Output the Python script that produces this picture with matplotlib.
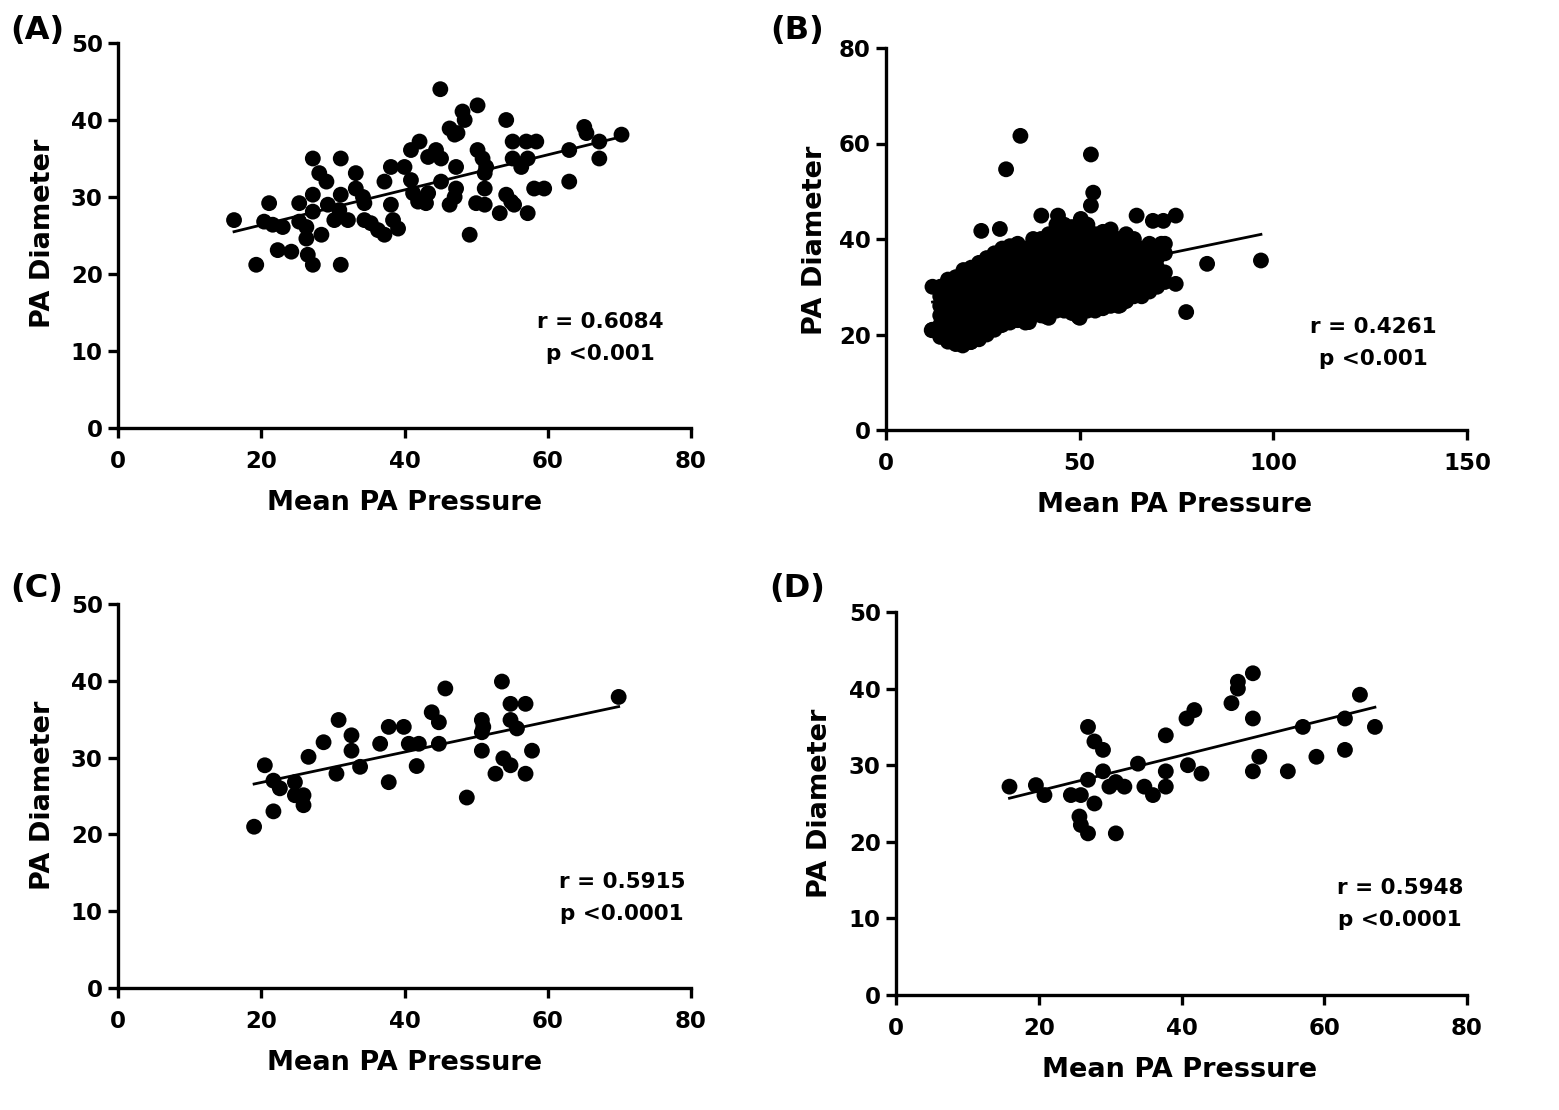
import numpy as np
import matplotlib
matplotlib.use("Agg")
import matplotlib.pyplot as plt

plt.rcParams['font.family'] = ['DejaVu Sans']
plt.rcParams['font.weight'] = 'bold'

# panel A - all patients
a_x = [16.2, 19.3, 21.1, 20.4, 21.6, 23.0, 22.3, 24.2, 25.3, 25.3, 26.3, 26.3, 26.5, 27.2, 28.4,
       27.2, 27.2, 28.1, 29.1, 27.2, 29.3, 30.2, 31.1, 31.1, 30.9, 32.1, 31.1, 33.2, 33.2, 34.2,
       34.4, 34.4, 35.3, 36.3, 37.2, 37.2, 38.1, 38.1, 38.4, 39.1, 40.0, 40.9, 42.1, 40.9, 41.2,
       41.9, 43.0, 43.3, 43.3, 45.0, 44.4, 45.1, 45.1, 46.3, 47.0, 47.4, 48.1, 48.4, 50.2, 47.2,
       47.2, 47.0, 46.3, 49.1, 50.0, 51.2, 50.2, 50.9, 51.4, 51.2, 51.2, 53.3, 54.2, 54.9, 55.3,
       57.2, 54.2, 55.1, 55.1, 56.3, 57.0, 58.4, 57.2, 58.1, 59.5, 63.0, 63.0, 65.1, 65.4, 67.2,
       67.2, 70.3]
a_y = [27.0, 21.2, 29.2, 26.8, 26.4, 26.1, 23.1, 22.9, 29.2, 26.8, 26.1, 24.6, 22.5, 21.2, 25.1,
       30.3, 35.0, 33.1, 32.0, 28.1, 29.0, 27.0, 35.0, 30.3, 28.3, 27.0, 21.2, 33.1, 31.1, 30.0,
       29.2, 27.0, 26.6, 25.7, 25.1, 32.0, 33.9, 29.0, 27.0, 25.9, 33.9, 36.1, 37.2, 32.2, 30.5,
       29.4, 29.2, 30.5, 35.2, 44.0, 36.1, 35.0, 32.0, 38.9, 38.1, 38.3, 41.1, 40.0, 41.9, 33.9,
       31.1, 30.0, 29.0, 25.1, 29.2, 29.0, 36.1, 35.0, 33.9, 33.1, 31.1, 27.9, 30.3, 29.4, 29.0,
       27.9, 40.0, 37.2, 35.0, 33.9, 37.2, 37.2, 35.0, 31.1, 31.1, 36.1, 32.0, 39.1, 38.3, 37.2,
       35.0, 38.1]

# panel B - dense cloud, read column by column, plus the scattered outer points
b_col_x = [12, 14, 16, 18, 20, 22, 24, 26, 28, 30, 32, 34, 36, 38, 40, 42,
           44, 46, 48, 50, 52, 54, 56, 58, 60, 62, 64, 66, 68, 70, 72]
b_col_y = [
    [21, 30],
    [19.5, 22, 24, 26, 28, 30],
    [18.5, 21, 23, 25, 27, 29, 31.5],
    [18, 20, 22, 24, 26, 28, 30, 32],
    [18, 19.5, 21.5, 23.5, 25.5, 27.5, 29.5, 31.5, 33.5],
    [18.5, 20.5, 22.5, 24.5, 26.5, 28.5, 30.5, 32.5, 34],
    [19, 21, 23, 25, 27, 29, 31, 33, 35],
    [20, 22, 24, 26, 28, 30, 32, 34, 36],
    [21, 23, 25, 27, 29, 31, 33, 35, 37],
    [22, 24, 26, 28, 30, 32, 34, 36, 38],
    [22.5, 24.5, 26.5, 28.5, 30.5, 32.5, 34.5, 36.5, 38.5],
    [23, 25, 27, 29, 31, 33, 35, 37, 39],
    [22.5, 24, 26, 28, 30, 32, 34, 36, 38],
    [24, 26, 28, 30, 32, 34, 36, 38, 40],
    [24, 26, 28, 30, 32, 34, 36, 38, 40],
    [23.5, 25.5, 27.5, 29.5, 31.5, 33.5, 35.5, 37.5, 39.5, 41],
    [25, 27, 29, 31, 33, 35, 37, 39, 41, 43],
    [25, 27, 29, 31, 33, 35, 37, 39, 41, 43],
    [24.5, 26.5, 28.5, 30.5, 32.5, 34.5, 36.5, 38.5, 40.5, 42.5],
    [23.5, 25.5, 27.5, 29.5, 31.5, 33.5, 35.5, 37.5, 39.5, 41.5],
    [25, 27, 29, 31, 33, 35, 37, 39, 41, 43],
    [25, 27, 29, 31, 33, 35, 37, 39, 41],
    [25.5, 27.5, 29.5, 31.5, 33.5, 35.5, 37.5, 39.5, 41.5],
    [26, 28, 30, 32, 34, 36, 38, 40, 42],
    [26, 28, 30, 32, 34, 36, 38, 40],
    [27, 29, 31, 33, 35, 37, 39, 41],
    [28, 30, 32, 34, 36, 38, 40],
    [28, 30, 32, 34, 36, 38],
    [29, 31, 33, 35, 37, 39],
    [30, 32, 34, 36, 38],
    [31, 33, 37, 39],
]
b_out_x = [34.7, 31.0, 52.9, 53.5, 52.9, 96.8, 82.9, 77.5, 74.8, 11.8, 24.6, 29.4, 40.1, 44.4, 50.3,
           64.7, 68.9, 71.6, 74.8, 71.1, 71.1, 65.8, 60.4, 49.7, 41.2, 36.9, 29.4, 19.8, 21.9]
b_out_y = [61.6, 54.6, 57.7, 49.7, 47.0, 35.5, 34.8, 24.7, 30.6, 20.9, 41.7, 42.1, 44.9, 44.9, 44.2,
           44.9, 43.8, 43.8, 44.9, 39.0, 36.9, 28.2, 26.1, 23.7, 23.8, 22.6, 21.9, 17.7, 18.4]

b_x = list(b_out_x)
b_y = list(b_out_y)
for cx, ys in zip(b_col_x, b_col_y):
    for yy in ys:
        b_x.append(cx)
        b_y.append(yy)

# panel C
c_x = [19.0, 20.5, 21.7, 21.7, 22.6, 24.7, 24.7, 25.9, 25.9, 26.6, 28.7, 30.8, 30.5, 32.6, 32.6,
       33.8, 36.6, 37.8, 37.8, 39.9, 40.6, 42.0, 41.7, 43.8, 44.8, 44.8, 45.7, 48.7, 50.8, 50.8,
       50.8, 52.7, 53.6, 54.8, 54.8, 55.7, 56.9, 53.8, 54.8, 56.9, 57.8, 69.9, 51.0]
c_y = [21.0, 29.0, 23.0, 27.0, 26.0, 26.8, 25.1, 25.1, 23.8, 30.1, 32.0, 34.9, 27.9, 32.9, 30.9,
       28.8, 31.8, 34.0, 26.8, 34.0, 31.8, 31.8, 28.9, 35.9, 34.6, 31.8, 39.0, 24.8, 34.9, 33.3,
       30.9, 27.9, 39.9, 37.0, 34.9, 33.8, 37.0, 29.9, 29.0, 27.9, 30.9, 37.9, 34.0]

# panel D
d_x = [15.9, 19.6, 20.8, 24.5, 25.9, 25.7, 25.9, 26.9, 26.9, 27.8, 29.0, 26.9, 27.8, 29.0, 29.9,
       30.8, 32.0, 30.8, 33.9, 34.8, 36.0, 37.8, 37.8, 37.8, 40.7, 41.8, 40.9, 42.8, 47.0, 47.9,
       47.9, 50.0, 50.0, 50.9, 50.0, 54.9, 57.0, 58.9, 62.9, 62.9, 65.0, 67.1]
d_y = [27.2, 27.4, 26.1, 26.1, 26.1, 23.3, 22.2, 21.1, 35.0, 33.1, 32.0, 28.1, 25.0, 29.2, 27.2,
       27.8, 27.2, 21.1, 30.2, 27.2, 26.1, 27.2, 29.2, 33.9, 36.1, 37.2, 30.0, 28.9, 38.1, 40.9,
       40.0, 42.0, 36.1, 31.1, 29.2, 29.2, 35.0, 31.1, 36.1, 32.0, 39.2, 35.0]

# regression lines: slope, intercept, x start, x end
fits = {
    'A': (0.228, 21.8, 16.2, 70.0),
    'B': (0.167, 24.8, 12.0, 96.8),
    'C': (0.198, 22.8, 19.0, 69.9),
    'D': (0.232, 22.0, 15.9, 67.1),
}
stats = {
    'A': ('r = 0.6084', 'p <0.001'),
    'B': ('r = 0.4261', 'p <0.001'),
    'C': ('r = 0.5915', 'p <0.0001'),
    'D': ('r = 0.5948', 'p <0.0001'),
}

W, H = 1559, 1110
fig = plt.figure(figsize=(W / 100, H / 100), dpi=100)


def ftext(x, y, s, **kw):
    # text placed by pixel position (from top-left)
    fig.text(x / W, 1 - y / H, s, ha='center', va='center', fontweight='bold', **kw)


def px_axes(x0, x1, y0, y1):
    # pixel box of the data area -> figure fraction
    return fig.add_axes([x0 / W, 1 - y0 / H, (x1 - x0) / W, (y0 - y1) / H])


def panel(box, xs, ys, key, xmax, ymax, xstep, ystep, stat_xy, ylab_xy, xlab_xy, tag_xy):
    ax = px_axes(*box)
    ax.scatter(xs, ys, s=130, color='black', edgecolors='none', zorder=2, clip_on=False)
    k, b, xa, xb = fits[key]
    lx = np.array([xa, xb])
    ax.plot(lx, k * lx + b, color='black', lw=2.0, zorder=3)
    ax.set_xlim(0, xmax)
    ax.set_ylim(0, ymax)
    ax.set_xticks(np.arange(0, xmax + 1, xstep))
    ax.set_yticks(np.arange(0, ymax + 1, ystep))
    for s in ['top', 'right']:
        ax.spines[s].set_visible(False)
    for s in ['left', 'bottom']:
        ax.spines[s].set_linewidth(2.4)
    ax.tick_params(width=2.4, length=7, labelsize=16.5)
    ax.tick_params(axis='x', pad=9)
    ax.tick_params(axis='y', pad=4)
    for t in ax.get_xticklabels() + ax.get_yticklabels():
        t.set_fontweight('bold')
    ftext(xlab_xy[0], xlab_xy[1], 'Mean PA Pressure', fontsize=19.5)
    ftext(ylab_xy[0], ylab_xy[1], 'PA Diameter', fontsize=19.5, rotation=90)
    ftext(stat_xy[0], stat_xy[1], stats[key][0], fontsize=15.5)
    ftext(stat_xy[0], stat_xy[1] + 32, stats[key][1], fontsize=15.5)
    ftext(tag_xy[0], tag_xy[1], '(' + key + ')', fontsize=23)
    return ax


panel((118, 691, 428, 43), a_x, a_y, 'A', 80, 50, 20, 10,
      (600, 322), (43, 233), (405, 503), (37, 30))
panel((886, 1467, 430, 48), b_x, b_y, 'B', 150, 80, 50, 20,
      (1373, 327), (815, 240), (1175, 505), (797, 30))
panel((118, 691, 988, 604), c_x, c_y, 'C', 80, 50, 20, 10,
      (622, 882), (43, 795), (405, 1063), (37, 588))
panel((896, 1467, 995, 612), d_x, d_y, 'D', 80, 50, 20, 10,
      (1400, 888), (820, 803), (1180, 1070), (797, 588))

fig.savefig('out.png', dpi=100)
